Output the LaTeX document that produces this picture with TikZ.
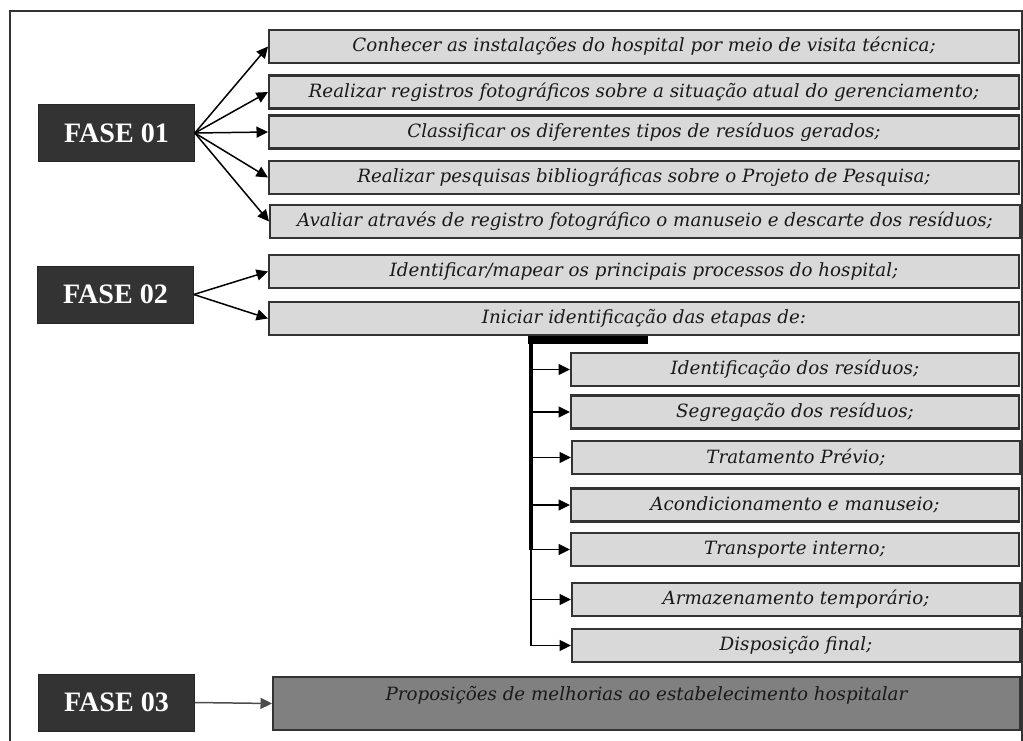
\documentclass[tikz,border=0pt]{standalone}
\usepackage{fontspec}
\setmainfont{DejaVu Serif}
\newfontfamily\fasefont{Liberation Serif}
\usetikzlibrary{arrows.meta}

\begin{document}
\begin{tikzpicture}[x=0.02cm,y=-0.02cm,
	fase/.style={draw=black!85, fill=black!80, text=white, minimum width=3.12cm, minimum height=1.14cm, inner sep=0pt, font=\fasefont\fontsize{16}{16}\selectfont\bfseries},
	item/.style={draw=black!80, line width=1.2pt, fill=black!15, minimum width=15cm, minimum height=0.66cm, inner sep=0pt, text=black!90, font=\fontsize{10.4}{12}\selectfont\itshape},
	sub/.style={item, minimum width=8.96cm},
	final/.style={item, fill=black!50, minimum width=14.94cm, minimum height=1.06cm, text depth=0.42cm},
	arr/.style={-{Triangle[length=0.23cm,width=0.22cm]}, line width=0.85pt, black}]
	\useasboundingbox (0,0) rectangle (1023,740);
	\draw[black!80, line width=0.8pt] (10,745) -- (10,11) -- (1022,11) -- (1022,745);

	% fase 01
	\node[fase] (f1) at (116.5,133) {FASE 01};
	\node[item] (b1) at (644,46.5) {Conhecer as instalações do hospital por meio de visita técnica;};
	\node[item] (b2) at (644,92) {Realizar registros fotográficos sobre a situação atual do gerenciamento;};
	\node[item] (b3) at (644,132) {Classificar os diferentes tipos de resíduos gerados;};
	\node[item] (b4) at (644,177.5) {Realizar pesquisas bibliográficas sobre o Projeto de Pesquisa;};
	\node[item] (b5) at (645,221.5) {Avaliar através de registro fotográfico o manuseio e descarte dos resíduos;};
	\foreach \b in {b1,b2,b3,b4,b5}
		\draw[arr] (f1.east) -- (\b.west);

	% fase 02
	\node[fase] (f2) at (115.5,294.5) {FASE 02};
	\node[item] (c1) at (644,271.5) {Identificar/mapear os principais processos do hospital;};
	\node[item] (c2) at (644,318.5) {Iniciar identificação das etapas de:};
	\draw[arr] (f2.east) -- (c1.west);
	\draw[arr] (f2.east) -- (c2.west);

	\node[sub] (d1) at (795,369.5) {Identificação dos resíduos;};
	\node[sub] (d2) at (795,412) {Segregação dos resíduos;};
	\node[sub] (d3) at (796,457.5) {Tratamento Prévio;};
	\node[sub] (d4) at (795,505) {Acondicionamento e manuseio;};
	\node[sub] (d5) at (795,549.5) {Transporte interno;};
	\node[sub] (d6) at (796,599.5) {Armazenamento temporário;};
	\node[sub] (d7) at (796,645.5) {Disposição final;};
	\coordinate (spine) at (531,340);
	\coordinate (barend) at (648,340);
	\draw[line width=4pt] (528,340) -- (barend);
	\draw[line width=2.2pt] (spine) -- (spine |- d5);
	\draw[line width=1.1pt] (spine |- d5) -- (spine |- d7);
	\foreach \d in {d1,d2,d3,d4,d5,d6,d7}
		\draw[arr] (spine |- \d.west) -- (\d.west);

	% fase 03
	\node[fase] (f3) at (116.5,702.5) {FASE 03};
	\node[final] (g1) at (646.5,703.5) {Proposições de melhorias ao estabelecimento hospitalar};
	\draw[arr, black!70] (f3.east) -- (g1.west);
\end{tikzpicture}
\end{document}
